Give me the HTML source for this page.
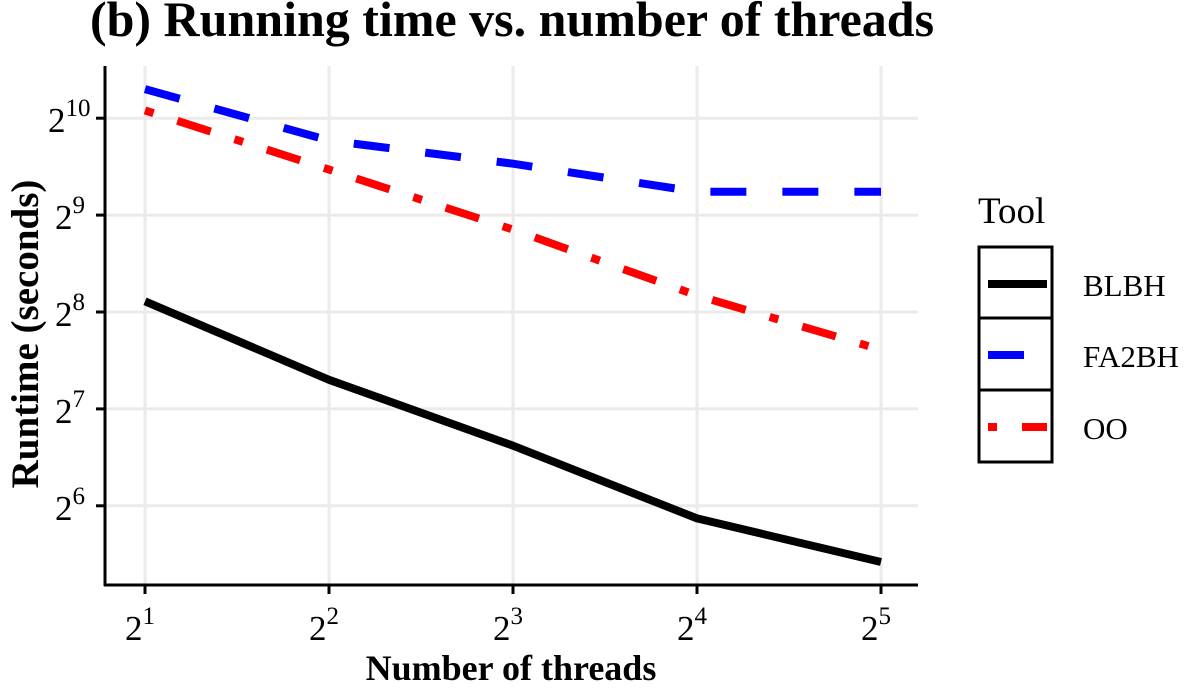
<!DOCTYPE html>
<html><head><meta charset="utf-8"><style>
body{margin:0;background:#fff;}
svg, svg text{font-family:"Liberation Serif","DejaVu Serif",serif;}
</style></head><body>
<svg width="1200" height="690" viewBox="0 0 1200 690" font-family="Liberation Serif, DejaVu Serif, serif">
<text x="512" y="36" font-size="50" font-weight="bold" text-anchor="middle" font-family="Liberation Serif, serif">(b) Running time vs. number of threads</text>
<g id="grid"></g>
<g id="series"></g>
<g id="axes"></g>
<text x="511" y="680" font-size="36" font-weight="bold" text-anchor="middle" font-family="Liberation Serif, serif">Number of threads</text>
<text transform="translate(38,334) rotate(-90)" font-size="39" font-weight="bold" text-anchor="middle" font-family="Liberation Serif, serif">Runtime (seconds)</text>
<g font-family="Liberation Serif, serif">
<text x="978" y="223" font-size="37">Tool</text>
<rect x="979" y="247" width="73" height="215" fill="#fff" stroke="#000" stroke-width="3"/>
<line x1="979" y1="318" x2="1052" y2="318" stroke="#000" stroke-width="3"/>
<line x1="979" y1="390" x2="1052" y2="390" stroke="#000" stroke-width="3"/>
<g><line x1="988" y1="284" x2="1047" y2="284" stroke="#000" stroke-width="8"/><text x="1083" y="296" font-size="31">BLBH</text></g>
<g><line x1="988" y1="355" x2="1047" y2="355" stroke="#00f" stroke-width="8" stroke-dasharray="36 36"/><text x="1083" y="367" font-size="31">FA2BH</text></g>
<g><line x1="988" y1="427" x2="1047" y2="427" stroke="#f00" stroke-width="8" stroke-dasharray="9 25 35 25"/><text x="1083" y="439" font-size="31">OO</text></g>
</g>
</svg>
<script>
const xTicks=[1,2,3,4,5];
const yTicks=[6,7,8,9,10];
const blbhX=[2,4,8,16,32];
const blbhY=[8.11,7.30,6.62,5.87,5.42];
const fa2bhX=[2,4,8,16,32];
const fa2bhY=[10.30,9.77,9.53,9.24,9.24];
const ooX=[2,4,8,16,32];
const ooY=[10.08,9.47,8.85,8.17,7.61];
const NS="http://www.w3.org/2000/svg";
function sx(v){return 145+(Math.log2(v)-1)*184;}
function sxe(e){return 145+(e-1)*184;}
function sy(e){return 312-(e-8)*96.9;}
function mk(t,a,p){const el=document.createElementNS(NS,t);for(const k in a)el.setAttribute(k,a[k]);p.appendChild(el);return el;}
const grid=document.getElementById('grid'),axes=document.getElementById('axes'),ser=document.getElementById('series');
xTicks.forEach(e=>{
 const l=mk('line',{x1:sxe(e),x2:sxe(e),y1:66,y2:585,stroke:'#ebebeb','stroke-width':3},grid);
 
 
 mk('line',{x1:sxe(e),x2:sxe(e),y1:585,y2:594,stroke:'#000','stroke-width':3},axes);
 const t=mk('text',{x:sxe(e)-5,y:640,'font-size':35,'text-anchor':'middle','font-family':'Liberation Serif, serif'},axes);
 
 
 t.innerHTML='2<tspan dy="-16" font-size="25">'+e+'</tspan>';
});
yTicks.forEach(e=>{
 const l=mk('line',{x1:105,x2:918,y1:sy(e),y2:sy(e),stroke:'#ebebeb','stroke-width':3},grid);
 
 
 mk('line',{x1:96,x2:105,y1:sy(e),y2:sy(e),stroke:'#000','stroke-width':3},axes);
 const t=mk('text',{x:e>=10?48:55,y:sy(e)+14,'font-size':35,'font-family':'Liberation Serif, serif'},axes);
 
 
 t.innerHTML='2<tspan dy="-16" font-size="25">'+e+'</tspan>';
});
mk('line',{x1:105,x2:105,y1:66,y2:586,stroke:'#000','stroke-width':3},axes);
mk('line',{x1:104,x2:918,y1:585,y2:585,stroke:'#000','stroke-width':3},axes);
function path(xs,ys,color,dash,name){
 const d=xs.map((x,i)=>(i?'L':'M')+sx(x).toFixed(1)+','+sy(ys[i]).toFixed(1)).join('');
 const p=mk('path',{d:d,fill:'none',stroke:color,'stroke-width':8,'stroke-linejoin':'round'},ser);
 if(dash)p.setAttribute('stroke-dasharray',dash);
 
 
}
path(blbhX,blbhY,'#000',null,'blbh-line');
path(fa2bhX,fa2bhY,'#00f','36 36','fa2bh-line');
path(ooX,ooY,'#f00','9 25 35 25','oo-line');
</script>
</body></html>
